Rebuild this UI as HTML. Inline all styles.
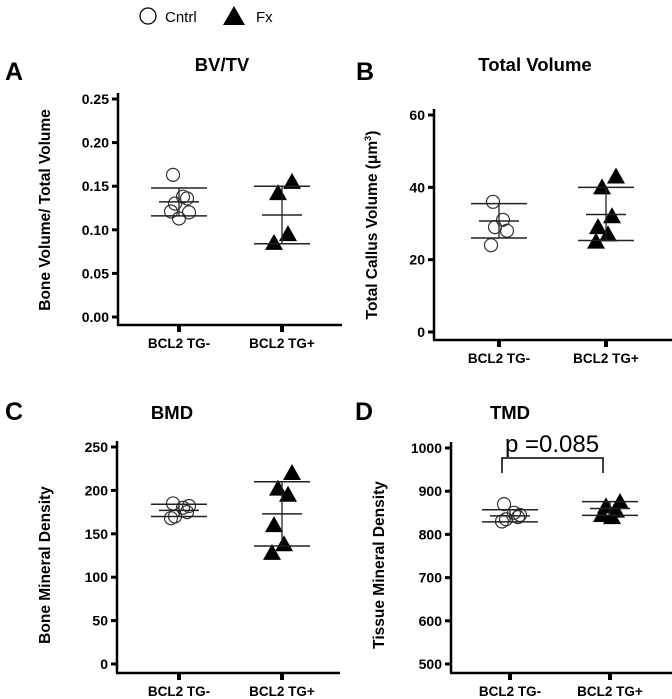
<!DOCTYPE html>
<html><head><meta charset="utf-8"><style>
body{margin:0;background:#fff;}
svg{display:block;font-family:"Liberation Sans",Arial,sans-serif;}
</style></head><body>
<svg id="chart" width="672" height="699" viewBox="0 0 672 699">
<g>
<circle cx="148" cy="16" r="8" fill="none" stroke="#000" stroke-width="1.3"/>
<text x="165" y="22" font-size="15">Cntrl</text>
<polygon points="234,6 245,25 223,25" fill="#000"/>
<text x="256" y="22" font-size="15">Fx</text>
</g>
</svg>
<script>
const categories=["BCL2 TG-","BCL2 TG+"];
const aCntrl=[0.163,0.138,0.136,0.130,0.121,0.120,0.113];
const aFx=[0.155,0.142,0.095,0.085];
const aTicks=[0,0.05,0.10,0.15,0.20,0.25];
const aStats=[[0.132,0.148,0.116],[0.117,0.150,0.084]];
const bCntrl=[36,31,28,29,24];
const bFx=[43,40,32,29,27,25];
const bTicks=[0,20,40,60];
const bStats=[[30.7,35.5,26],[32.5,40,25.3]];
const cCntrl=[185,180,175,170,168,182];
const cFx=[220,202,195,160,138,128];
const cTicks=[0,50,100,150,200,250];
const cStats=[[177,184,170],[173,210,136]];
const dCntrl=[870,850,840,835,830,845];
const dFx=[875,865,855,845,840];
const dTicks=[500,600,700,800,900,1000];
const dStats=[[843,857,829],[860,876,844]];
const jit=[-6,4,8,-4,-8,10,0];
const jitFx=[10,-4,6,-8,2,-10];

const svg=document.getElementById('chart');
const NS='http://www.w3.org/2000/svg';
function el(tag,attrs,parent){const e=document.createElementNS(NS,tag);for(const k in attrs)e.setAttribute(k,attrs[k]);(parent||svg).appendChild(e);return e;}

function panel(p){
  const g=el('g',{});
  
  
  const y=v=>p.y0+(v-p.ticks[0])/(p.ticks[p.ticks.length-1]-p.ticks[0])*(p.y1-p.y0);
  const x=i=>p.cx[i];
  const letter=el('text',{x:p.lx,y:p.ly,'font-size':25,'font-weight':'bold'},g);letter.textContent=p.id;
  
  
  const t=el('text',{x:p.tx,y:p.ty,'font-size':18.5,'font-weight':'bold','text-anchor':'middle'},g);t.textContent=p.title;
  
  
  const yl=el('text',{x:0,y:0,'font-size':15.5,'font-weight':'bold','text-anchor':'middle',transform:`translate(${p.ylx},${p.yly}) rotate(-90)`},g);yl.innerHTML=p.ylabel;
  
  
  const ya=el('line',{x1:p.ax,x2:p.ax,y1:p.y1-6,y2:p.xy,stroke:'#000','stroke-width':2.5},g);
  
  
  const xa=el('line',{x1:p.ax-1,x2:p.xend,y1:p.xy,y2:p.xy,stroke:'#000','stroke-width':2.5},g);
  
  
  p.ticks.forEach(v=>{
    const tk=el('line',{x1:p.ax-6,x2:p.ax,y1:y(v),y2:y(v),stroke:'#000','stroke-width':3},g);
    
    
    const tl=el('text',{x:p.ax-9,y:y(v)+5,'font-size':14,'font-weight':'bold','text-anchor':'end'},g);
    tl.textContent=p.fmt(v);
    
    
  });
  categories.forEach((c,i)=>{
    const tk=el('line',{x1:x(i),x2:x(i),y1:p.xy,y2:p.xy+7,stroke:'#000','stroke-width':4},g);
    
    
    const tl=el('text',{x:x(i),y:p.xy+23,'font-size':13.5,'font-weight':'bold','text-anchor':'middle'},g);
    tl.textContent=c;
    
    
  });
  [p.cntrl,p.fx].forEach((arr,i)=>{
    arr.forEach((v,j)=>{
      const px=x(i)+(i===0?jit[j%jit.length]:jitFx[j%jitFx.length]),py=y(v);
      let m;
      if(i===0){m=el('circle',{cx:px,cy:py,r:6.5,fill:'none',stroke:'#333','stroke-width':1.2},g);
        }
      else{m=el('polygon',{points:`${px},${py-9} ${px+9},${py+7} ${px-9},${py+7}`,fill:'#000'},g);
        }
      
    });
    const s=p.stats[i];
    const v=el('line',{x1:x(i),x2:x(i),y1:y(s[1]),y2:y(s[2]),stroke:'#222','stroke-width':1.3},g);
    
    
    [[s[0],20],[s[1],28],[s[2],28]].forEach(([val,w])=>{
      const h=el('line',{x1:x(i)-w,x2:x(i)+w,y1:y(val),y2:y(val),stroke:'#222','stroke-width':1.5},g);
      
      
    });
  });
  if(p.pval){
    const b=el('path',{d:`M${x(0)-8},473 V458 H${x(1)-7} V473`,fill:'none',stroke:'#000','stroke-width':1.5},g);
    
    
    const pt=el('text',{x:(x(0)+x(1))/2-8,y:452,'font-size':24,'text-anchor':'middle'},g);
    pt.textContent=p.pval;
    
    
  }
}
panel({id:'A',title:'BV/TV',lx:5,ly:80,tx:222,ty:71,ylabel:'Bone Volume/ Total Volume',ylx:50,yly:210,ax:118,y0:317,y1:99,xy:325,xend:342,cx:[179,282],ticks:aTicks,fmt:v=>v.toFixed(2),cntrl:aCntrl,fx:aFx,stats:aStats});
panel({id:'B',title:'Total Volume',lx:356,ly:80,tx:535,ty:71,ylabel:'Total Callus Volume (μm<tspan font-size="9" dy="-6">3</tspan><tspan dy="6">)</tspan>',ylx:377,yly:225,ax:434,y0:332,y1:115,xy:340,xend:672,cx:[499,606],ticks:bTicks,fmt:v=>String(v),cntrl:bCntrl,fx:bFx,stats:bStats});
panel({id:'C',title:'BMD',lx:5,ly:420,tx:172,ty:419,ylabel:'Bone Mineral Density',ylx:50,yly:565,ax:117,y0:664,y1:447,xy:673,xend:340,cx:[179,282],ticks:cTicks,fmt:v=>String(v),cntrl:cCntrl,fx:cFx,stats:cStats});
panel({id:'D',title:'TMD',lx:355,ly:420,tx:510,ty:419,ylabel:'Tissue Mineral Density',ylx:384,yly:565,ax:451,y0:664,y1:448,xy:673,xend:672,cx:[510,610],ticks:dTicks,fmt:v=>String(v),cntrl:dCntrl,fx:dFx,stats:dStats,pval:'p =0.085'});
</script>
</body></html>
